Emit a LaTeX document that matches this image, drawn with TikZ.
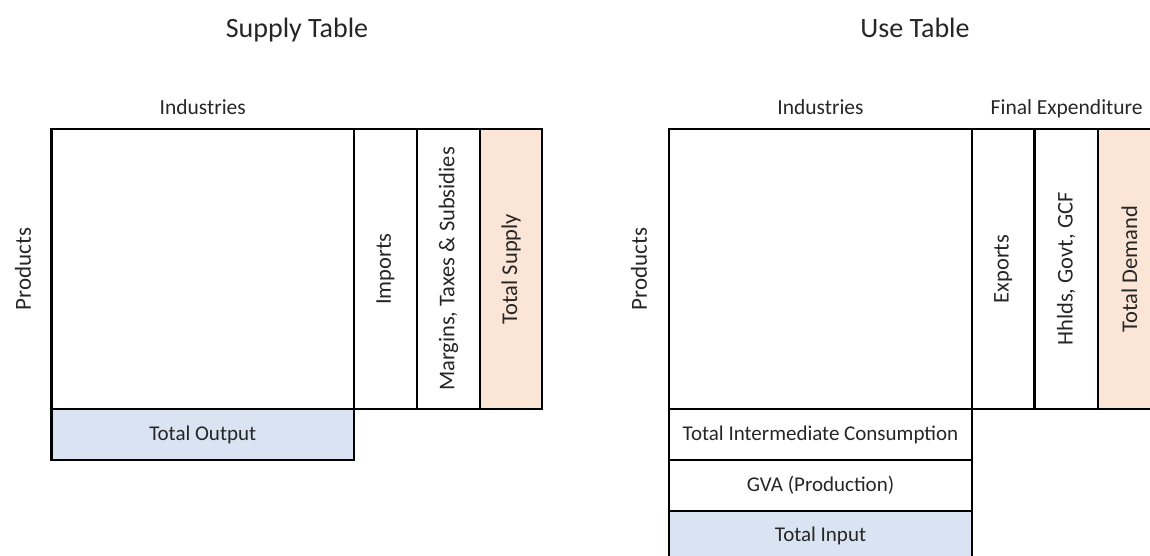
\documentclass[tikz,border=0pt]{standalone}
\usepackage{fontspec}
\setmainfont{Carlito}
\definecolor{orangefill}{RGB}{251,229,214}
\definecolor{bluefill}{RGB}{218,227,241}
\definecolor{inkgray}{RGB}{38,38,38}
\begin{document}
\begin{tikzpicture}[x=1pt,y=1pt,
  cell/.style={draw=black, line width=2.6pt, inner sep=0pt, outer sep=0pt,
    font=\fontsize{21}{24}\selectfont, text=inkgray},
  coltext/.style={font=\fontsize{22.5}{26}\selectfont},
  titletext/.style={font=\fontsize{28}{32}\selectfont, text=inkgray, anchor=base},
  headtext/.style={font=\fontsize{21.5}{24}\selectfont, text=inkgray, anchor=base},
  sidetext/.style={font=\fontsize{23}{26}\selectfont, text=inkgray, rotate=90}]
\useasboundingbox (0,0) rectangle (1150,556);
\clip (0,0) rectangle (1150,556);
% Supply table
\node[titletext] (stitle) at (297,518) {Supply Table};
\node[headtext] (sind) at (202.75,441) {Industries};
\node[sidetext] (sprod) at (23,287) {Products};
\node[cell, minimum width=302.5pt, minimum height=280pt] (sI) at (202.75,287) {};
\node[cell, coltext, minimum width=63pt, minimum height=280pt] (sImp) at (385.5,287) {\rotatebox{90}{Imports}};
\node[cell, coltext, minimum width=63pt, minimum height=280pt] (sMar) at (448.5,287) {\rotatebox{90}{Margins, Taxes \& Subsidies}};
\node[cell, coltext, fill=orangefill, minimum width=62pt, minimum height=280pt] (sTot) at (511,287) {\rotatebox{90}{Total Supply}};
\node[cell, fill=bluefill, minimum width=302.5pt, minimum height=51pt] (sOut) at (202.75,121.5) {Total Output};
% Use table
\node[titletext] (utitle) at (915,518) {Use Table};
\node[headtext] (uind) at (820.5,441) {Industries};
\node[headtext] (ufin) at (1066.7,441) {Final Expenditure};
\node[sidetext] (uprod) at (639,287) {Products};
\node[cell, minimum width=303pt, minimum height=280pt] (uI) at (820.5,287) {};
\node[cell, coltext, minimum width=62.5pt, minimum height=280pt] (uExp) at (1003.25,287) {\rotatebox{90}{Exports}};
\node[cell, coltext, minimum width=63.5pt, minimum height=280pt] (uHh) at (1066.25,287) {\rotatebox{90}{Hhlds, Govt, GCF}};
\node[cell, coltext, fill=orangefill, minimum width=63pt, minimum height=280pt] (uTot) at (1129.5,287) {\rotatebox{90}{Total Demand}};
\node[cell, minimum width=303pt, minimum height=51pt] (uTIC) at (820.5,121.5) {Total Intermediate Consumption};
\node[cell, minimum width=303pt, minimum height=51pt] (uGVA) at (820.5,70.5) {GVA (Production)};
\node[cell, fill=bluefill, minimum width=303pt, minimum height=50pt] (uTI) at (820.5,20) {Total Input};
\end{tikzpicture}
\end{document}
